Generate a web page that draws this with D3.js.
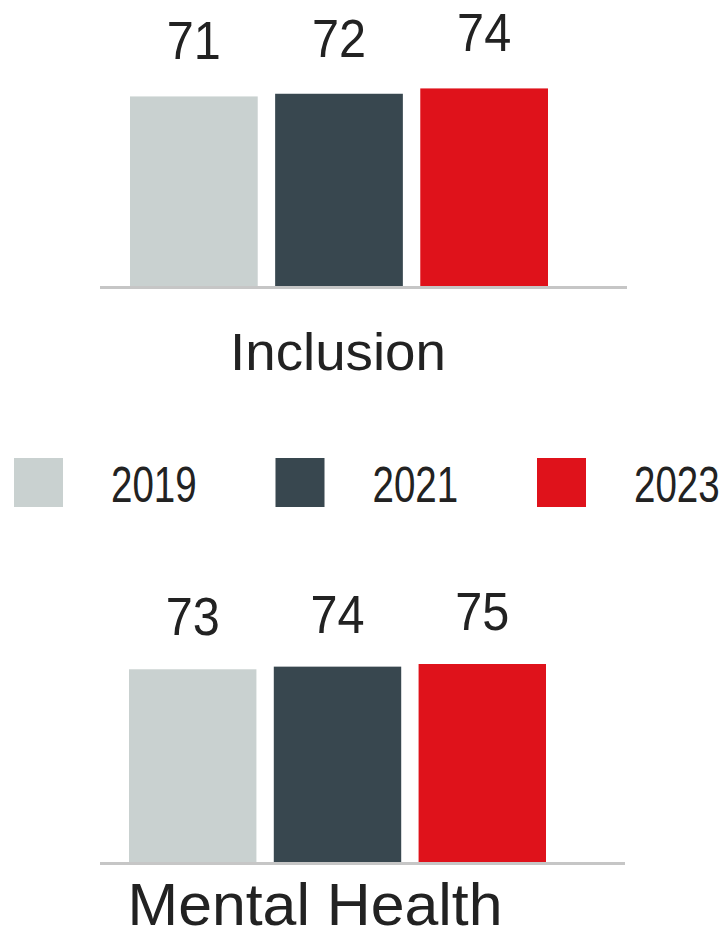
<!DOCTYPE html>
<html>
<head>
<meta charset="utf-8">
<script src="https://cdn.jsdelivr.net/npm/d3@7"></script>
<style>
  html, body { margin: 0; padding: 0; background: #ffffff; }
  svg { display: block; }
  text { font-family: "Liberation Sans", Arial, "DejaVu Sans", sans-serif; fill: #222222; }
</style>
</head>
<body>
<svg id="chart" width="723" height="951"></svg>
<script>
// Survey scores by year
const years = ["2019", "2021", "2023"];
const inclusionScores = [71, 72, 74];
const mentalHealthScores = [73, 74, 75];
const panelTitles = ["Inclusion", "Mental Health"];
const yearColors = ["#c9d1d0", "#38474f", "#df121b"];

const svg = d3.select("#chart");

// Layout of the two small bar panels
const panels = [
  { title: panelTitles[0], values: inclusionScores, x0: 130, x1: 548, base: 286, pxPerUnit: 2.67,
    lineX0: 100, lineX1: 627, titleX: 338, titleY: 370, titleSize: 51, titleLen: 216, labelGap: 37 },
  { title: panelTitles[1], values: mentalHealthScores, x0: 129, x1: 546, base: 862, pxPerUnit: 2.64,
    lineX0: 100, lineX1: 625, titleX: 315, titleY: 925, titleSize: 60, titleLen: 375, labelGap: 34 }
];

panels.forEach(p => {
  const g = svg.append("g");
  const x = d3.scaleBand().domain(years).range([p.x0, p.x1]).paddingInner(0.12).paddingOuter(0);
  const y = d3.scaleLinear().domain([0, 100]).range([p.base, p.base - 100 * p.pxPerUnit]);
  const rows = years.map((yr, i) => ({ year: yr, value: p.values[i], color: yearColors[i] }));

  // baseline
  g.append("line")
    .attr("x1", p.lineX0).attr("x2", p.lineX1)
    .attr("y1", p.base + 1.5).attr("y2", p.base + 1.5)
    .attr("stroke", "#c6c6c6").attr("stroke-width", 3);

  // bars
  g.selectAll("rect.bar").data(rows).join("rect")
    .attr("class", "bar")
    .attr("x", d => x(d.year))
    .attr("width", x.bandwidth())
    .attr("y", d => y(d.value))
    .attr("height", d => y(0) - y(d.value))
    .attr("fill", d => d.color);

  // value labels
  g.selectAll("text.val").data(rows).join("text")
    .attr("class", "val")
    .attr("text-anchor", "middle")
    .attr("font-size", 54)
    .attr("transform", d => `translate(${x(d.year) + x.bandwidth() / 2},${y(d.value) - p.labelGap}) scale(0.9,1)`)
    .text(d => d.value);

  // panel title
  g.append("text")
    .attr("x", p.titleX - p.titleLen / 2)
    .attr("y", p.titleY)
    .attr("font-size", p.titleSize)
    .attr("textLength", p.titleLen)
    .attr("lengthAdjust", "spacingAndGlyphs")
    .text(p.title);
});

// Legend between the panels
const legendX = d3.scalePoint().domain(years).range([14, 537]);
const legend = svg.append("g");
const items = legend.selectAll("g.item").data(years.map((yr, i) => ({ year: yr, color: yearColors[i] })))
  .join("g").attr("class", "item")
  .attr("transform", d => `translate(${legendX(d.year)},458)`);

items.append("rect")
  .attr("width", 49).attr("height", 49)
  .attr("fill", d => d.color);

items.append("text")
  .attr("font-size", 50)
  .attr("transform", "translate(97,44) scale(0.77,1)")
  .text(d => d.year);
</script>
</body>
</html>
